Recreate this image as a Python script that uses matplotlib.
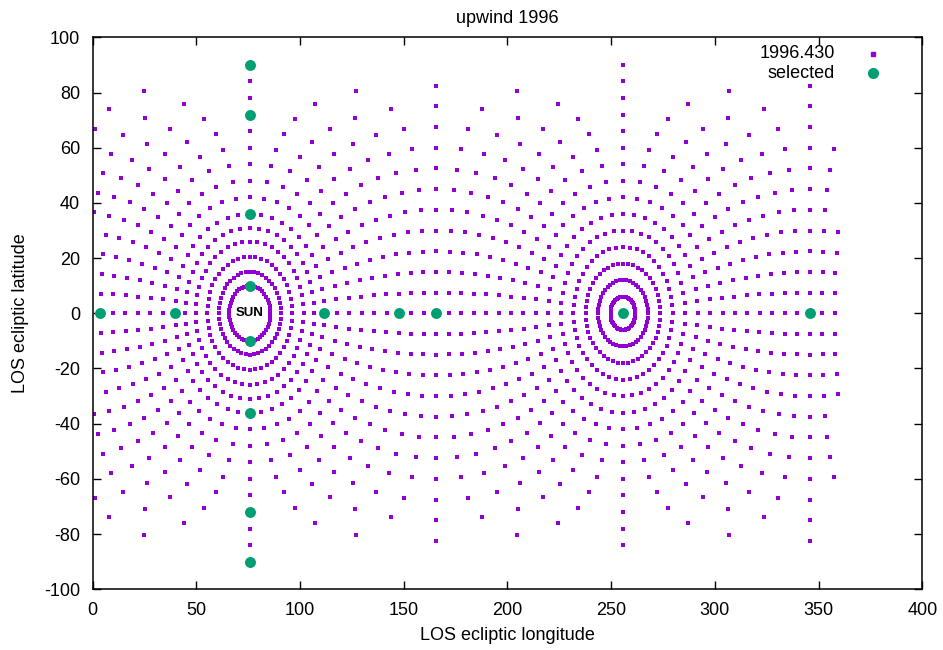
import numpy as np
import matplotlib
matplotlib.use("Agg")
import matplotlib.pyplot as plt
from matplotlib.lines import Line2D

plt.rcParams["font.family"] = ["Liberation Sans", "DejaVu Sans"]
plt.rcParams["axes.unicode_minus"] = False

# sun direction (ecliptic longitude, deg)
SUN_LON = 75.7

# elongation of each ring of lines of sight (deg from the sun)
elongations = [10, 15, 20.5, 26, 31, 36, 42, 48, 54, 60, 66, 72, 78, 84, 90,
               96, 102, 108, 114, 120, 126, 132, 138, 144, 150, 156, 162, 168, 174]
# position angles sampled on every ring (deg)
pos_angles = np.arange(0, 360, 7.5)

# selected lines of sight
sel_lon = [3.7, 39.7, 75.7, 75.7, 75.7, 75.7, 75.7, 75.7, 75.7, 75.7,
           111.7, 147.7, 165.7, 255.7, 345.7]
sel_lat = [0, 0, 90, 72, 36, 10, -10, -36, -72, -90, 0, 0, 0, 0, 0]


def los_to_ecliptic(elong, pa, sun_lon):
    """elongation / position angle around the sun -> ecliptic lon, lat"""
    ls = np.radians(sun_lon)
    e = np.radians(elong)
    p = np.radians(pa)
    s = np.array([np.cos(ls), np.sin(ls), 0.0])
    n = np.array([0.0, 0.0, 1.0])
    east = np.array([-np.sin(ls), np.cos(ls), 0.0])
    v = (np.cos(e)[..., None] * s
         + np.sin(e)[..., None] * (np.cos(p)[..., None] * n + np.sin(p)[..., None] * east))
    lat = np.degrees(np.arcsin(np.clip(v[..., 2], -1, 1)))
    lon = np.degrees(np.arctan2(v[..., 1], v[..., 0])) % 360
    # longitude is undefined at the poles; the original puts them on these meridians
    lon = np.where(lat > 89.99, (sun_lon + 180) % 360, lon)
    lon = np.where(lat < -89.99, sun_lon, lon)
    return lon, lat


E, P = np.meshgrid(elongations, pos_angles)
los_lon, los_lat = los_to_ecliptic(E.ravel(), P.ravel(), SUN_LON)

fig = plt.figure(figsize=(9.43, 6.5), dpi=100)
ax = fig.add_axes([0.0983, 0.0934, 0.8797, 0.8492])

purple = "#9400D3"
green = "#009E73"

ax.scatter(los_lon, los_lat, marker="s", s=8.5, color=purple, linewidths=0, zorder=2)
ax.scatter(sel_lon, sel_lat, marker="o", s=62, color=green, linewidths=0, zorder=3)
ax.text(SUN_LON, 0, "SUN", ha="center", va="center", fontsize=9.5,
        fontweight="bold", zorder=4)

ax.set_xlim(0, 400)
ax.set_ylim(-100, 100)
ax.set_xticks(range(0, 401, 50))
ax.set_yticks(range(-100, 101, 20))
ax.tick_params(direction="in", top=True, right=True, length=6, width=1,
               labelsize=13)
ax.tick_params(axis="x", pad=9)
ax.tick_params(axis="y", pad=9)
for sp in ax.spines.values():
    sp.set_linewidth(1.1)

ax.set_xlabel("LOS ecliptic longitude", fontsize=13, labelpad=6)
ax.set_ylabel("LOS ecliptic latitude", fontsize=13, labelpad=11)
ax.set_title("upwind 1996", fontsize=13, pad=10)

# legend, gnuplot style (text left of the sample)
fig.text(835 / 943, 1 - 54 / 650, "1996.430", ha="right", va="center", fontsize=13)
fig.text(835 / 943, 1 - 73 / 650, "selected", ha="right", va="center", fontsize=13)
fig.add_artist(Line2D([873 / 943], [1 - 54 / 650], marker="s", markersize=2.9,
                      color=purple, linestyle="none", transform=fig.transFigure))
fig.add_artist(Line2D([873 / 943], [1 - 73 / 650], marker="o", markersize=8,
                      color=green, markeredgewidth=0, linestyle="none",
                      transform=fig.transFigure))

fig.savefig("out.png", dpi=100)
plt.close(fig)
